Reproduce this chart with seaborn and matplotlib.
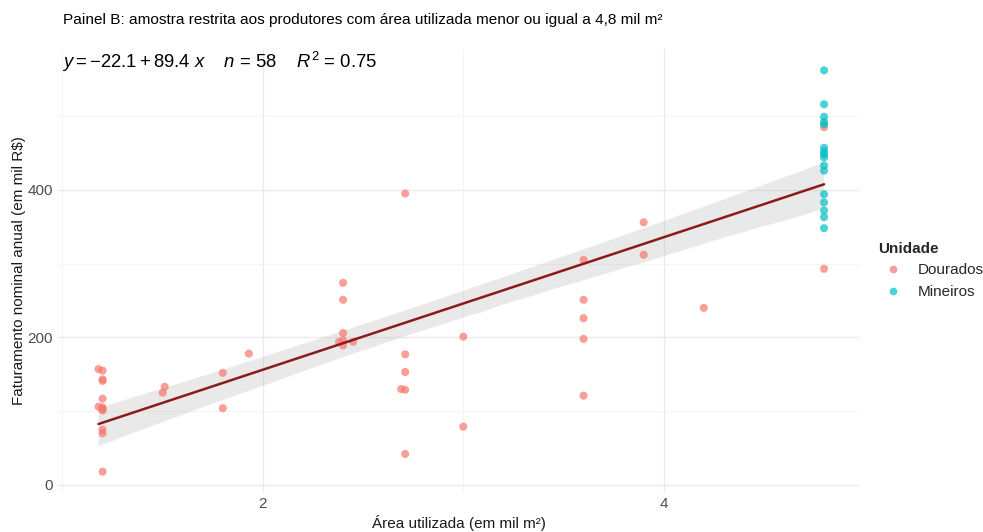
import numpy as np
import pandas as pd
import matplotlib
matplotlib.use("Agg")
import matplotlib.pyplot as plt
import seaborn as sns
from matplotlib.ticker import MultipleLocator

# ---- data ----
dour_x = [1.18, 1.2, 1.2, 1.2, 1.2, 1.18, 1.2, 1.2, 1.2, 1.2, 1.2, 1.2,
          1.5, 1.51, 1.8, 1.8, 1.93,
          2.71, 2.4, 2.4, 2.4, 2.38, 2.4, 2.4, 2.45, 2.71, 2.71, 2.69, 2.71,
          3.0, 3.0, 2.71,
          3.9, 3.6, 3.9, 3.6, 3.6, 3.6, 3.6, 4.2,
          4.8, 4.8]
dour_y = [157, 155, 143, 141, 117, 106, 105, 101, 103, 75, 70, 18,
          125, 133, 152, 104, 178,
          395, 274, 251, 206, 194, 196, 189, 194, 177, 153, 130, 129,
          201, 79, 42,
          356, 305, 312, 251, 226, 198, 121, 240,
          485, 293]
mine_x = [4.8] * 16
mine_y = [562, 516, 499, 492, 489, 457, 452, 448, 444, 433, 426, 394, 383,
          372, 363, 348]

df = pd.DataFrame({
    "area": dour_x + mine_x,
    "fat": dour_y + mine_y,
    "Unidade": ["Dourados"] * len(dour_x) + ["Mineiros"] * len(mine_x),
})

sns.set_theme(style="whitegrid")
plt.rcParams["font.family"] = ["Liberation Sans", "DejaVu Sans"]
plt.rcParams["mathtext.fontset"] = "custom"
plt.rcParams["mathtext.rm"] = "Liberation Sans"
plt.rcParams["mathtext.it"] = "Liberation Sans:italic"

fig = plt.figure(figsize=(9.83, 5.32), dpi=100)
ax = fig.add_axes([0.0595, 0.076, 0.8155, 0.832])

sns.regplot(data=df, x="area", y="fat", scatter=False, ax=ax,
            color="#8B1A1A", line_kws={"lw": 1.8, "zorder": 3}, ci=95)
for coll in ax.collections:
    coll.set_facecolor("#BDBDBD")
    coll.set_alpha(0.33)
    coll.set_edgecolor("none")

sns.scatterplot(data=df, x="area", y="fat", hue="Unidade",
                palette={"Dourados": "#F8766D", "Mineiros": "#00BFC4"},
                alpha=0.7, s=34, edgecolor="none", ax=ax, zorder=2)

ax.set_xlim(0.98, 4.98)
ax.set_ylim(-9, 591)
ax.xaxis.set_major_locator(MultipleLocator(2))
ax.xaxis.set_minor_locator(MultipleLocator(1))
ax.yaxis.set_major_locator(MultipleLocator(200))
ax.yaxis.set_minor_locator(MultipleLocator(100))
ax.grid(which="major", color="#EBEBEB", lw=1.0)
ax.grid(which="minor", color="#F4F4F4", lw=0.8)
for s in ax.spines.values():
    s.set_visible(False)
ax.tick_params(which="both", length=0, labelsize=11, labelcolor="#4D4D4D", pad=4)

ax.set_xlabel("Área utilizada (em mil m²)", fontsize=11, color="#1A1A1A", labelpad=3)
ax.set_ylabel("Faturamento nominal anual (em mil R$)", fontsize=11, color="#1A1A1A", labelpad=1)

ax.text(0.005, 0.97, r"$y = -22.1 + 89.4\ x$    $n$ = 58    $R^2$ = 0.75",
        transform=ax.transAxes, fontsize=13.3, color="black", va="center", ha="left")
fig.text(63 / 983, 1 - 20 / 532,
         "Painel B: amostra restrita aos produtores com área utilizada menor ou igual a 4,8 mil m²",
         fontsize=11.1, color="black", va="center", ha="left")

leg = ax.legend(title="Unidade", loc="center left", bbox_to_anchor=(1.005, 0.5),
                frameon=False, fontsize=11, title_fontproperties={"weight": "bold", "size": 11},
                handletextpad=0.6, markerscale=0.95, alignment="left")

fig.savefig("out.png", dpi=100)
